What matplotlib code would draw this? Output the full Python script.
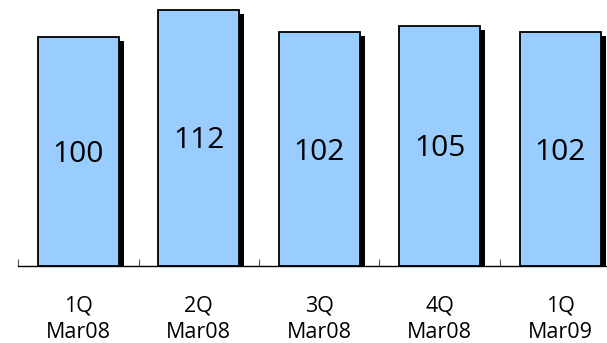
import matplotlib
matplotlib.use("Agg")
import matplotlib.pyplot as plt
import matplotlib.transforms as mtransforms

plt.rcParams['font.family'] = ['Open Sans', 'DejaVu Sans']

quarters = ["1Q", "2Q", "3Q", "4Q", "1Q"]
periods = ["Mar08", "Mar08", "Mar08", "Mar08", "Mar09"]
values = [100, 112, 102, 105, 102]

W, H = 607, 343
dpi = 100
fig = plt.figure(figsize=(W / dpi, H / dpi), dpi=dpi)

# axes placed in pixel terms: baseline at y=266, left edge at x=18
left, bottom, top = 18, H - 266, H
unit = 120.5
xmax = -0.5 + (W - left) / unit
ax = fig.add_axes([left / W, bottom / H, (W - left) / W, (top - bottom) / H])
ax.set_xlim(-0.5, xmax)
ax.set_ylim(0, 266 / 2.29)

x = list(range(len(values)))
width = 0.67

# drop shadow: same bars shifted right and down
shadow_tr = ax.transData + mtransforms.ScaledTranslation(5 / dpi, -4 / dpi, fig.dpi_scale_trans)
ax.bar(x, values, width=width, color="black", edgecolor="none", transform=shadow_tr, zorder=1)
ax.bar(x, values, width=width, color="#99CCFF", edgecolor="black", linewidth=1.3, zorder=2)

label_tr = ax.transData + mtransforms.ScaledTranslation(0, -3 / dpi, fig.dpi_scale_trans)
for xi, v in zip(x, values):
    ax.text(xi, v / 2, f"{v}", ha="center", va="center", fontsize=21.5, color="black",
            transform=label_tr, zorder=3)

for s in ["top", "right", "left"]:
    ax.spines[s].set_visible(False)
ax.spines["bottom"].set_linewidth(1.0)
ax.spines["bottom"].set_color("black")
ax.set_yticks([])

ax.set_xticks([i - 0.5 for i in range(len(values))])
ax.set_xticklabels([])
ax.tick_params(axis="x", which="major", direction="in", length=5, width=0.8, color="#555555")

ax.set_xticks(x, minor=True)
ax.set_xticklabels([f"{q}\n{p}" for q, p in zip(quarters, periods)], minor=True,
                   fontsize=15.5, linespacing=1.35)
ax.tick_params(axis="x", which="minor", length=0, pad=21)

fig.savefig("out.png", dpi=dpi)
